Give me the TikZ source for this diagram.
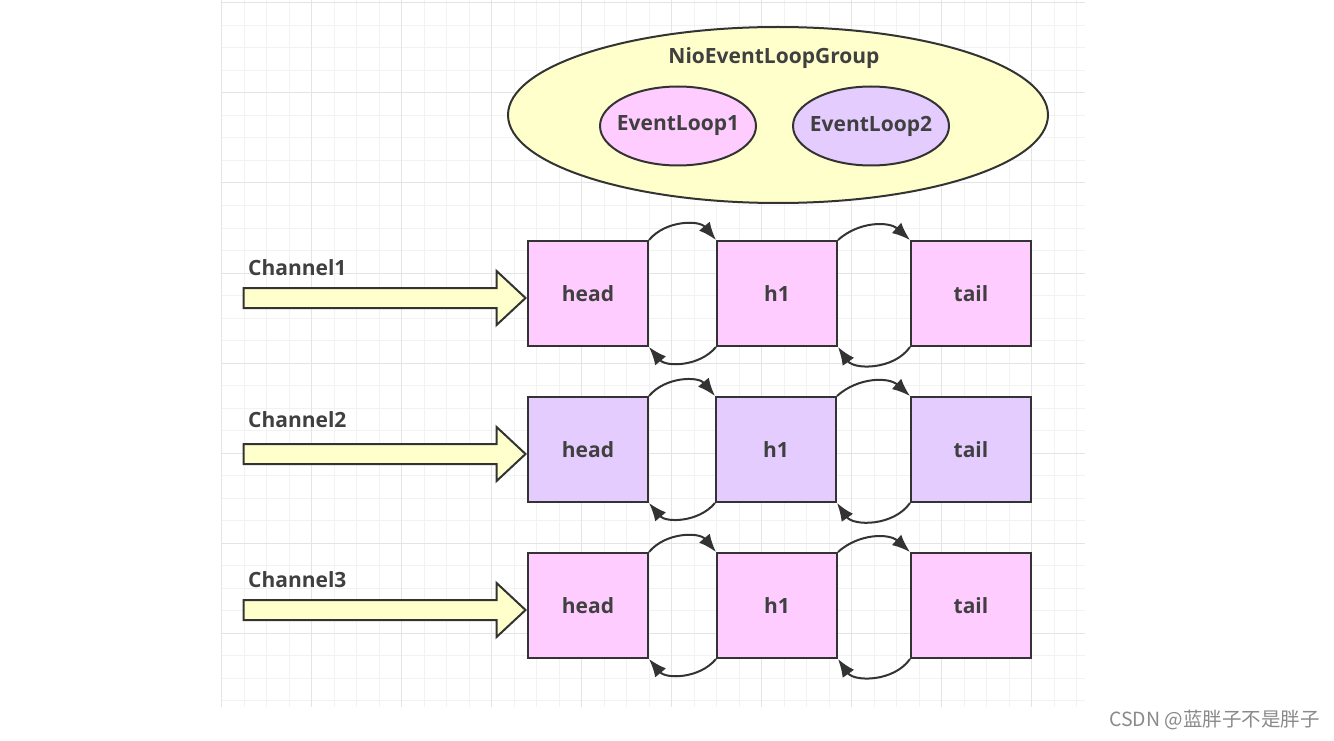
\documentclass[tikz,border=0pt]{standalone}
\usepackage{fontspec}
\setmainfont{Open Sans}
\newfontfamily\cjk{Noto Sans CJK SC}
\usetikzlibrary{arrows.meta,shapes.geometric,shapes.arrows}
\definecolor{ylw}{HTML}{FFFFCC}
\definecolor{pnk}{HTML}{FFCCFF}
\definecolor{lav}{HTML}{E5CCFF}
\definecolor{edge}{HTML}{333333}
\definecolor{txt}{HTML}{404040}
\definecolor{gmin}{HTML}{F2F2F2}
\definecolor{gmaj}{HTML}{E4E4E4}
\definecolor{wm}{HTML}{8A8A8A}
\begin{document}
\begin{tikzpicture}[x=1pt,y=-1pt,
  lbl/.style={font=\bfseries\fontsize{21}{25}\selectfont, text=txt, inner sep=0pt},
  ell/.style={ellipse, draw=edge, line width=2pt, inner sep=0pt},
  box/.style={rectangle, draw=edge, line width=2pt, minimum width=120pt, minimum height=105pt, inner sep=0pt, lbl},
  link/.style={draw=edge, line width=2pt, -{Latex[length=18pt,width=14pt]}},
  chan/.style={single arrow, draw=edge, fill=ylw, line width=2pt, minimum height=282pt, inner sep=9pt, single arrow head extend=17pt, single arrow tip angle=86},
  gridmin/.style={draw=gmin, line width=1pt},
  gridmaj/.style={draw=gmaj, line width=1pt}
]
\useasboundingbox (0,0) rectangle (1334,741);
\fill[white] (0,0) rectangle (1334,741);
% grid
\foreach \xx in {221.7,244.2,...,1085} \draw[gridmin] (\xx,0) -- (\xx,707);
\foreach \yy in {3,25.5,...,707} \draw[gridmin] (221.7,\yy) -- (1085,\yy);
\foreach \xx in {221.7,311.7,...,1085} \draw[gridmaj] (\xx,0) -- (\xx,707);
\foreach \yy in {3,93,...,707} \draw[gridmaj] (221.7,\yy) -- (1085,\yy);

% event loop group
\node[ell, fill=ylw, minimum width=540pt, minimum height=176pt] (grp) at (778,115) {};
\node[lbl] (grpt) at (774,58) {NioEventLoopGroup};
\node[ell, fill=pnk, minimum width=156pt, minimum height=79pt] (el1) at (678,126) {};
\node[lbl] (el1t) at (el1.center) {EventLoop1};
\node[ell, fill=lav, minimum width=156pt, minimum height=79pt] (el2) at (871,126) {};
\node[lbl] (el2t) at (el2.center) {EventLoop2};

% row 1
\node[box, fill=pnk] (a1) at (588,293.5) {head};
\node[box, fill=pnk] (b1) at (777,293.5) {h1};
\node[box, fill=pnk] (c1) at (971,293.5) {tail};
% row 2
\node[box, fill=lav] (a2) at (588,449.5) {head};
\node[box, fill=lav] (b2) at (776,449.5) {h1};
\node[box, fill=lav] (c2) at (971,449.5) {tail};
% row 3
\node[box, fill=pnk] (a3) at (588,605.5) {head};
\node[box, fill=pnk] (b3) at (777,605.5) {h1};
\node[box, fill=pnk] (c3) at (971,605.5) {tail};

\foreach \r in {1,2,3} {
  \draw[link] (a\r.north east) to[bend left=50] (b\r.north west);
  \draw[link] (b\r.south west) to[bend left=50] (a\r.south east);
  \draw[link] (b\r.north east) to[bend left=42] (c\r.north west);
  \draw[link] (c\r.south west) to[bend left=55] (b\r.south east);
  \node[chan, anchor=tip, yshift=-4.5pt] (ar\r) at (a\r.west) {};
}
\node[lbl, anchor=base west] (ch1) at (248,275) {Channel1};
\node[lbl, anchor=base west] (ch2) at (248,427) {Channel2};
\node[lbl, anchor=base west] (ch3) at (248,587) {Channel3};

\node[anchor=east, inner sep=0pt, text=wm, font=\cjk\fontsize{19.5}{22}\selectfont] (wmk) at (1320,720) {CSDN @蓝胖子不是胖子};
\end{tikzpicture}
\end{document}
